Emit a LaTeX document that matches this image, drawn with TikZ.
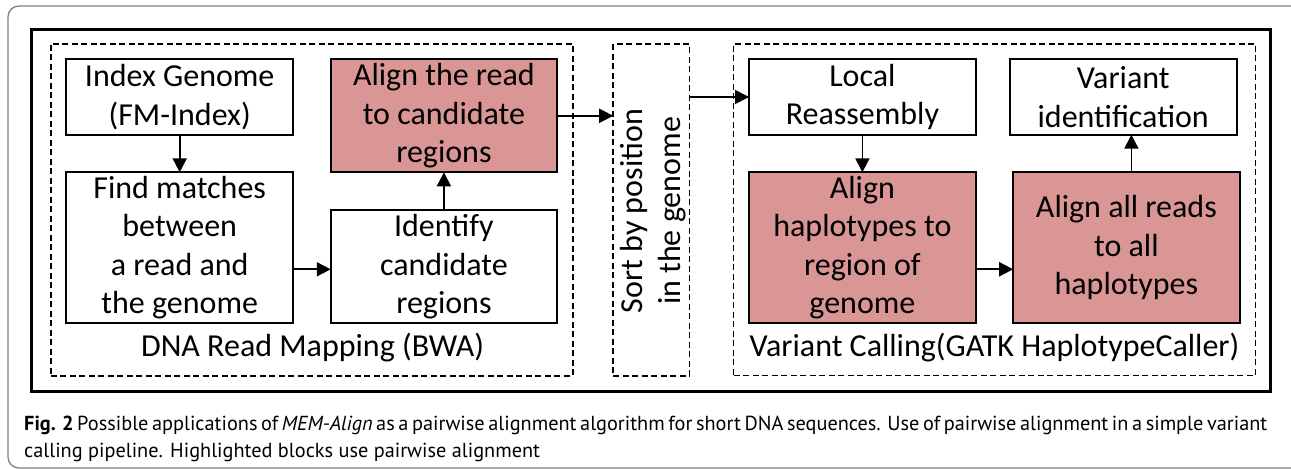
\documentclass[tikz,border=0pt]{standalone}
\usepackage{fontspec}
\setmainfont{Carlito}
\newfontfamily\capfont{PT Sans}
\usetikzlibrary{arrows.meta}
\definecolor{hl}{HTML}{D99694}
\definecolor{framegray}{HTML}{808080}
\newcommand\boxfont{\fontsize{32}{38.5}\selectfont}
\newcommand\capsize{\fontsize{20.3}{27}\selectfont}
\tikzset{
  box/.style={draw, line width=2pt, inner sep=0pt, outer sep=0pt, align=center, font=\boxfont},
  hlbox/.style={box, fill=hl},
  grp/.style={draw, dash pattern=on 6pt off 3.5pt, line width=1.8pt, inner sep=0pt, outer sep=0pt},
  arr/.style={line width=1.8pt, -{Triangle[length=14pt,width=14pt]}},
  lbl/.style={font=\boxfont, anchor=base, inner sep=0pt},
  captxt/.style={font=\capfont\capsize, anchor=base west, inner sep=0pt},
}
\begin{document}
\begin{tikzpicture}[x=1pt,y=-1pt]
\useasboundingbox (0,0) rectangle (1291,470);
\begin{scope}
  \clip (0,0) rectangle (1291,470);
  \draw[framegray, line width=1.3pt, rounded corners=11pt] (8,6) rectangle (1310,468);
\end{scope}
% outer black frame
\node[draw, line width=3pt, inner sep=0pt, minimum width=1238.3pt, minimum height=362.2pt] (frame) at (650.85,210.4) {};
% groups
\node[grp, minimum width=522pt, minimum height=332.3pt] (map) at (311.6,209.85) {};
\node[grp, minimum width=76.2pt, minimum height=332pt] (sort) at (651.3,210) {};
\node[grp, minimum width=522pt, minimum height=331.5pt] (vc) at (994.5,209.75) {};
% mapping boxes
\node[box, minimum width=226.6pt, minimum height=75.4pt] (index) at (179.7,97) {Index Genome\\(FM-Index)};
\node[box, minimum width=226.6pt, minimum height=151pt] (find) at (179.7,247.8) {Find matches\\between\\a read and\\the genome};
\node[hlbox, minimum width=226.3pt, minimum height=113pt] (alignr) at (443.9,115.8) {Align the read\\to candidate\\regions};
\node[box, minimum width=226.3pt, minimum height=113.3pt] (ident) at (443.9,266.7) {Identify\\candidate\\regions};
% sort text
\node[rotate=90, font=\boxfont, align=center, inner sep=0pt] (sorttxt) at (653,211) {Sort by position\\in the genome};
% variant calling boxes
\node[box, minimum width=226.8pt, minimum height=75.4pt] (local) at (862.4,97) {Local\\Reassembly};
\node[box, minimum width=226.9pt, minimum height=75.4pt] (varid) at (1123.2,97) {Variant\\identification};
\node[hlbox, minimum width=226.8pt, minimum height=151pt] (alhap) at (862.4,247.8) {Align\\haplotypes to\\region of\\genome};
\node[hlbox, minimum width=226.4pt, minimum height=151pt] (alall) at (1126.4,247.8) {Align all reads\\to all\\haplotypes};
% group labels
\node[lbl] (maplbl) at (312.6,357) {DNA Read Mapping (BWA)};
\node[lbl] (vclbl) at (994.6,357) {Variant Calling(GATK HaplotypeCaller)};
% arrows
\draw[arr] (index) -- (find);
\draw[arr] ([yshift=-21.5pt]find.east) -- ([yshift=-21.5pt]find.east -| ident.west);
\draw[arr] (ident) -- (alignr);
\draw[arr] (alignr.east) -- (alignr.east -| sort.west);
\draw[arr] (local.west -| sort.east) -- (local.west);
\draw[arr] (local) -- (alhap);
\draw[arr] ([yshift=-21.5pt]alhap.east) -- ([yshift=-21.5pt]alhap.east -| alall.west);
\draw[arr] ([xshift=5pt]alall.north) -- ([xshift=5pt]alall.north |- varid.south);
% caption
\node[captxt] (cap1) at (24,430) {\makebox[1242pt][s]{\textbf{Fig. 2} Possible applications of \textit{MEM-Align} as a pairwise alignment algorithm for short DNA sequences. Use of pairwise alignment in a simple variant}};
\node[captxt] (cap2) at (24,457) {calling pipeline. Highlighted blocks use pairwise alignment};
\end{tikzpicture}
\end{document}
